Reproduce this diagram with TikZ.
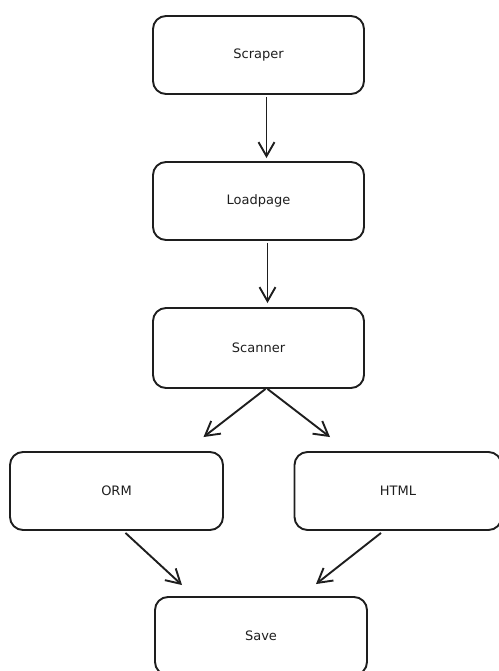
\documentclass[tikz,border=0pt]{standalone}
\usepackage{fontspec}
\setmainfont{DejaVu Sans}
\usetikzlibrary{arrows.meta}
\definecolor{ink}{HTML}{1E1E1E}
\begin{document}
\begin{tikzpicture}[x=1pt, y=-1pt, line width=1.9pt, draw=ink,
  stage/.style={draw=ink, rounded corners=13pt, minimum width=211pt, minimum height=78pt, font=\fontsize{13}{15}\selectfont, text=ink, inner sep=0pt},
  flow/.style={draw=ink, -{Straight Barb[length=14pt, width=16pt]}}]
\useasboundingbox (0,0) rectangle (498,671);
\node[stage] (scraper) at (258.5,55){Scraper};
\node[stage] (loadpage) at (258.5,201){Loadpage};
\node[stage, minimum height=80pt] (scanner) at (258.5,348){Scanner};
\node[stage, minimum width=213pt] (orm) at (116.5,491){ORM};
\node[stage, minimum width=207pt] (html) at (398,491){HTML};
\node[stage, minimum width=212pt] (save) at (261,636){Save};
\draw[flow]([xshift=8,yshift=-2]scraper.south) -- ([xshift=8,yshift=3]loadpage.north);
\draw[flow]([xshift=9,yshift=-2]loadpage.south) -- ([xshift=9,yshift=4]scanner.north);
\draw[flow]([xshift=7]scanner.south) -- ([xshift=87,yshift=14]orm.north);
\draw[flow]([xshift=9]scanner.south) -- ([xshift=-68,yshift=14]html.north);
\draw[flow]([xshift=9,yshift=-2]orm.south) -- ([xshift=-79,yshift=11]save.north);
\draw[flow]([xshift=-17,yshift=-2]html.south) -- ([xshift=55,yshift=12]save.north);
\end{tikzpicture}
\end{document}
